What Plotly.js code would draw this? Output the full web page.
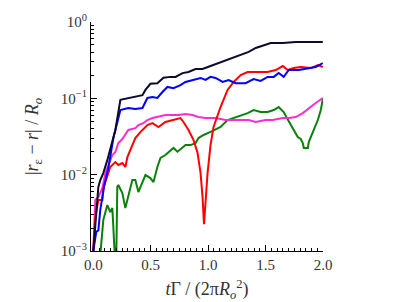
<!DOCTYPE html>
<html><head><meta charset="utf-8">
<script src="https://cdn.plot.ly/plotly-3.0.1.min.js"></script>
<style>html,body{margin:0;padding:0;background:#fff}</style>
</head><body><div id="chart" style="width:399px;height:302px"></div>
<script>
var blackT = [0,0.017,0.044,0.061,0.087,0.122,0.166,0.192,0.236,0.305,0.366,0.428,0.454,0.497,0.558,0.611,0.672,0.716,0.777,0.829,0.89,0.951,1.021,1.09,1.178,1.265,1.353,1.414,1.5,1.545,1.65,1.763,1.876,1.998];
var blackV = [0.001,0.00234,0.00692,0.00851,0.0105,0.0155,0.0282,0.0385,0.0955,0.100,0.105,0.110,0.129,0.155,0.158,0.186,0.191,0.191,0.214,0.221,0.242,0.242,0.265,0.290,0.318,0.358,0.405,0.457,0.501,0.531,0.531,0.547,0.547,0.547];

var blueT = [0,0.026,0.044,0.061,0.096,0.131,0.175,0.236,0.305,0.366,0.428,0.471,0.515,0.558,0.602,0.646,0.698,0.759,0.803,0.873,0.934,0.977,1.021,1.065,1.126,1.178,1.239,1.326,1.396,1.457,1.518,1.571,1.614,1.658,1.702,1.789,1.85,1.937,1.998];
var blueV = [0.001,0.00178,0.00186,0.00347,0.00724,0.0123,0.0302,0.0703,0.0746,0.0724,0.0746,0.101,0.104,0.101,0.121,0.141,0.136,0.149,0.164,0.174,0.185,0.174,0.191,0.185,0.164,0.174,0.158,0.158,0.179,0.169,0.191,0.191,0.215,0.191,0.235,0.235,0.242,0.257,0.290];

var redT = [0,0.017,0.044,0.079,0.087,0.122,0.148,0.192,0.218,0.253,0.279,0.297,0.34,0.366,0.41,0.471,0.515,0.567,0.628,0.689,0.759,0.785,0.829,0.873,0.908,0.934,0.951,0.964,0.977,0.995,1.021,1.047,1.108,1.169,1.222,1.283,1.344,1.414,1.518,1.588,1.65,1.693,1.745,1.806,1.894,1.955,1.998];
var redV = [0.001,0.00278,0.00465,0.00465,0.00667,0.00933,0.0126,0.0146,0.0134,0.0142,0.0126,0.0170,0.0244,0.0302,0.0361,0.0447,0.0474,0.0421,0.0490,0.0520,0.0552,0.0490,0.0385,0.0284,0.0192,0.0105,0.00513,0.00224,0.00468,0.0105,0.0245,0.0421,0.0769,0.129,0.164,0.202,0.221,0.221,0.221,0.235,0.265,0.235,0.249,0.257,0.249,0.273,0.257];

var magentaT = [0,0.017,0.044,0.079,0.105,0.131,0.166,0.192,0.218,0.253,0.305,0.366,0.393,0.436,0.471,0.515,0.558,0.628,0.689,0.742,0.803,0.864,0.916,0.977,1.065,1.152,1.265,1.353,1.414,1.5,1.562,1.65,1.702,1.763,1.824,1.876,1.937,1.998];
var magentaV = [0.001,0.00465,0.00508,0.00667,0.0105,0.0134,0.0181,0.0198,0.0259,0.0293,0.0385,0.0407,0.0447,0.0474,0.0520,0.0552,0.0569,0.0604,0.0604,0.0604,0.0622,0.0604,0.0569,0.0552,0.0552,0.0520,0.0520,0.0520,0.0490,0.0520,0.0520,0.0552,0.0552,0.0569,0.0641,0.0746,0.0867,0.101];

var greenT = [0.061,0.087,0.122,0.131,0.148,0.166,0.175,0.183,0.192,0.2,0.209,0.218,0.253,0.279,0.297,0.323,0.34,0.366,0.393,0.41,0.454,0.497,0.524,0.558,0.585,0.628,0.672,0.698,0.733,0.777,0.803,0.846,0.89,0.916,0.96,1.021,1.108,1.169,1.222,1.283,1.344,1.396,1.457,1.518,1.571,1.614,1.658,1.702,1.745,1.78,1.806,1.824,1.833,1.868,1.876,1.911,1.955,1.981,1.998];
var greenV = [0.00089,0.00254,0.0040,0.00365,0.00324,0.00365,0.00219,0.00102,0.00063,0.00079,0.00687,0.00731,0.00575,0.00365,0.00465,0.00667,0.00851,0.00851,0.00592,0.00687,0.00989,0.00902,0.0080,0.0126,0.0166,0.0181,0.0210,0.0224,0.0200,0.0224,0.0244,0.0244,0.0259,0.0302,0.0331,0.0363,0.0421,0.0520,0.0552,0.0604,0.0641,0.0703,0.0661,0.0661,0.0703,0.0769,0.0661,0.0501,0.0385,0.0311,0.0293,0.0259,0.0224,0.0224,0.0267,0.0351,0.0520,0.0703,0.0977];

var xTickVals = [0, 0.5, 1.0, 1.5, 2.0];
var xTickText = ['0.0', '0.5', '1.0', '1.5', '2.0'];
var yTickVals = [0.001, 0.01, 0.1, 1];
var yTickText = ['10<sup>\u22123</sup>', '10<sup>\u22122</sup>', '10<sup>\u22121</sup>', '10<sup>0</sup>'];

var series = [
  {x: greenT, y: greenV, color: '#0a820a'},
  {x: magentaT, y: magentaV, color: '#ff2ecb'},
  {x: redT, y: redV, color: '#ff0000'},
  {x: blueT, y: blueV, color: '#0000ff'},
  {x: blackT, y: blackV, color: '#0b0b2e'}
];
var traces = series.map(function(s){
  return {x: s.x, y: s.y, type: 'scatter', mode: 'lines',
          line: {color: s.color, width: 2}, showlegend: false, hoverinfo: 'skip'};
});

var minorY = [];
[0.001, 0.01, 0.1].forEach(function(d){ for (var k = 2; k <= 9; k++) minorY.push(d * k); });

var fam = 'Liberation Serif, DejaVu Serif, serif';
var layout = {
  width: 399, height: 302,
  margin: {l: 91, r: 76, t: 22, b: 51},
  paper_bgcolor: '#fff', plot_bgcolor: '#fff',
  font: {family: fam, size: 14, color: '#333'},
  xaxis: {
    range: [-0.02, 2.0], showgrid: false, zeroline: false,
    showline: true, linecolor: '#000', linewidth: 1,
    ticks: 'inside', ticklen: 6, tickcolor: '#000', tickwidth: 1,
    tickmode: 'array', tickvals: xTickVals, ticktext: xTickText,
    minor: {dtick: 0.05, ticks: 'inside', ticklen: 3, tickcolor: '#000', showgrid: false},
    tickfont: {family: fam, size: 15, color: '#333'},
    title: {text: '<i>t</i>\u0393 / (2\u03c0<i>R</i><sub><i>o</i></sub><sup>2</sup>)',
            font: {family: fam, size: 18, color: '#333'}, standoff: 10}
  },
  yaxis: {
    type: 'log', range: [-3, 0], showgrid: false, zeroline: false,
    showline: true, linecolor: '#000', linewidth: 1,
    ticks: 'inside', ticklen: 6, tickcolor: '#000', tickwidth: 1,
    tickmode: 'array', tickvals: yTickVals, ticktext: yTickText,
    minor: {tickmode: 'array', tickvals: minorY, ticks: 'inside', ticklen: 3, tickcolor: '#000', showgrid: false},
    tickfont: {family: fam, size: 15, color: '#333'},
    title: {text: '|<i>r</i><sub>\u03b5</sub> \u2212 <i>r</i>| / <i>R</i><sub><i>o</i></sub>',
            font: {family: fam, size: 18, color: '#333'}, standoff: 17}
  }
};
Plotly.newPlot('chart', traces, layout, {staticPlot: true, displayModeBar: false});
</script>
</body></html>
